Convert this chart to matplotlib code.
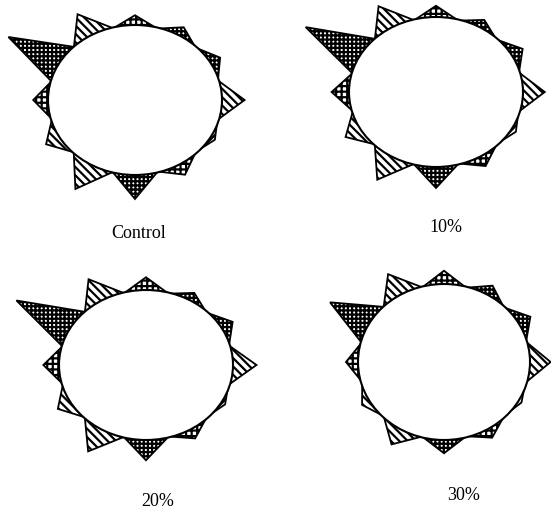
import numpy as np
import matplotlib.pyplot as plt
from matplotlib.patches import Ellipse, Polygon

# ray directions in degrees (counter-clockwise from east) and their fill
angles = [90, 60, 30, 0, -30, -60, -90, -120, -150, 180, 150, 120]
fills = ['grid', 'dots', 'dots', 'lines', 'lines2', 'grid',
         'dots', 'lines', 'lines', 'grid', 'dots', 'lines']

# ray tip distance, relative to the ellipse radius in that direction
labels = ['Control', '10%', '20%', '30%']
control = [1.13, 1.12, 1.13, 1.26, 1.06, 1.15, 1.32, 1.37, 1.18, 1.17, 1.68, 1.32]
pct10 = [1.15, 1.11, 1.15, 1.25, 1.06, 1.14, 1.28, 1.35, 1.20, 1.20, 1.73, 1.32]
pct20 = [1.17, 1.11, 1.15, 1.27, 1.05, 1.13, 1.27, 1.33, 1.17, 1.18, 1.72, 1.32]
pct30 = [1.17, 1.13, 1.16, 1.24, 1.04, 1.12, 1.17, 1.22, 1.10, 1.14, 1.53, 1.30]
rays = [control, pct10, pct20, pct30]

# panel layout in figure pixels: ellipse centre, radii, label position
centres = [(135, 100), (436, 92), (146, 365), (444, 362)]
radii = [(87, 75), (87, 75), (87, 75), (86, 78)]
label_pos = [(139, 234), (446, 228), (158, 502), (464, 495)]

hatches = {'grid': '+++', 'dots': '++++', 'lines': '\\\\\\\\', 'lines2': '////'}

plt.rcParams['hatch.linewidth'] = 1.6
plt.rcParams['font.family'] = ['Liberation Serif', 'DejaVu Serif']

fig = plt.figure(figsize=(5.51, 5.14), dpi=100)
ax = fig.add_axes([0, 0, 1, 1])
ax.set_xlim(0, 551)
ax.set_ylim(514, 0)
ax.set_aspect('equal')
ax.axis('off')

half = 16  # half width of a ray base, degrees
for (cx, cy), (rx, ry), vals, lab, (lx, ly) in zip(centres, radii, rays, labels, label_pos):
    for a, f, r in zip(angles, fills, vals):
        t = np.radians([a - half, a, a + half])
        base1 = (cx + 0.98 * rx * np.cos(t[0]), cy - 0.98 * ry * np.sin(t[0]))
        tip = (cx + r * rx * np.cos(t[1]), cy - r * ry * np.sin(t[1]))
        base2 = (cx + 0.98 * rx * np.cos(t[2]), cy - 0.98 * ry * np.sin(t[2]))
        ax.add_patch(Polygon([base1, tip, base2], closed=True, facecolor='white',
                             edgecolor='black', lw=1.3, hatch=hatches[f]))
    ax.add_patch(Ellipse((cx, cy), 2 * rx, 2 * ry, facecolor='white',
                         edgecolor='black', lw=1.5, zorder=3))
    ax.text(lx, ly, lab, ha='center', va='center', fontsize=13)

fig.savefig('out.png', dpi=100)
